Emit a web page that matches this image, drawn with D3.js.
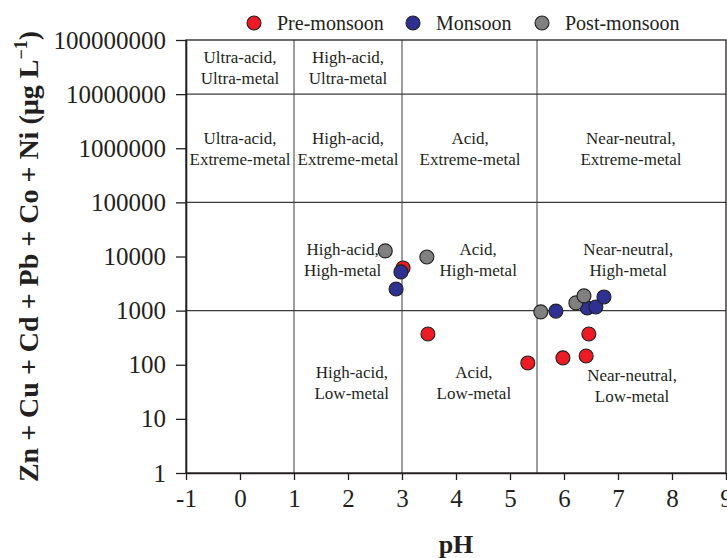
<!DOCTYPE html>
<html>
<head>
<meta charset="utf-8">
<script src="https://cdn.jsdelivr.net/npm/d3@7"></script>
<style>
  body { margin: 0; background: #fff; }
  text { font-family: "Liberation Serif", "Times New Roman", serif; fill: #231f20; }
</style>
</head>
<body>
<svg id="chart" width="727" height="558"></svg>
<script>
// values
const seasons = ['Pre-monsoon', 'Monsoon', 'Post-monsoon'];
const preMonsoonPH = [3.02, 3.48, 5.33, 5.98, 6.41, 6.46];
const preMonsoonMetal = [6150, 370, 108, 134, 145, 370];
const monsoonPH = [2.98, 2.89, 5.85, 6.43, 6.59, 6.74];
const monsoonMetal = [5190, 2510, 980, 1120, 1170, 1790];
const postMonsoonPH = [2.69, 3.46, 5.57, 6.22, 6.37];
const postMonsoonMetal = [12700, 9800, 950, 1390, 1870];

const xTicks = [-1, 0, 1, 2, 3, 4, 5, 6, 7, 8, 9];
const yTicks = [1, 10, 100, 1000, 10000, 100000, 1000000, 10000000, 100000000];

// Ficklin-style zone boundaries
const phBounds = [1, 3, 5.5];
const metalBounds = [1e3, 1e5, 1e7];

// zone labels: [line 1, line 2, pH, metal]
const zoneLabels = [
  ['Ultra-acid,', 'Ultra-metal', 0, 3e7],
  ['High-acid,', 'Ultra-metal', 2, 3e7],
  ['Ultra-acid,', 'Extreme-metal', 0, 9.5e5],
  ['High-acid,', 'Extreme-metal', 2, 9.5e5],
  ['Acid,', 'Extreme-metal', 4.26, 9.5e5],
  ['Near-neutral,', 'Extreme-metal', 7.24, 9.5e5],
  ['High-acid,', 'High-metal', 1.9, 8500],
  ['Acid,', 'High-metal', 4.41, 8500],
  ['Near-neutral,', 'High-metal', 7.19, 8500],
  ['High-acid,', 'Low-metal', 2.07, 46],
  ['Acid,', 'Low-metal', 4.33, 46],
  ['Near-neutral,', 'Low-metal', 7.26, 40],
];

const colors = ['#ed1c24', '#2e3192', '#808080'];
const series = [
  { name: seasons[0], ph: preMonsoonPH, metal: preMonsoonMetal, color: colors[0] },
  { name: seasons[1], ph: monsoonPH, metal: monsoonMetal, color: colors[1] },
  { name: seasons[2], ph: postMonsoonPH, metal: postMonsoonMetal, color: colors[2] },
];

const margin = { top: 40, right: 1, bottom: 85, left: 186 };
const svg = d3.select('#chart');
const W = +svg.attr('width'), H = +svg.attr('height');
const width = W - margin.left - margin.right;
const height = H - margin.top - margin.bottom;

const g = svg.append('g').attr('transform', `translate(${margin.left},${margin.top})`);

const x = d3.scaleLinear().domain([-1, 9]).range([0, width]);
const y = d3.scaleLog().domain([1, 1e8]).range([height, 0]);

// zone lines
g.selectAll('.vline').data(phBounds).join('line')
  .attr('x1', d => x(d)).attr('x2', d => x(d))
  .attr('y1', 0).attr('y2', height)
  .attr('stroke', '#3a3a3a').attr('stroke-width', 1);
g.selectAll('.hline').data(metalBounds).join('line')
  .attr('x1', 0).attr('x2', width)
  .attr('y1', d => y(d)).attr('y2', d => y(d))
  .attr('stroke', '#3a3a3a').attr('stroke-width', 1.2);

// frame
g.append('rect')
  .attr('width', width).attr('height', height)
  .attr('fill', 'none').attr('stroke', '#231f20').attr('stroke-width', 1.3);

// axes
const yAxis = g.append('g')
  .call(d3.axisLeft(y).tickValues(yTicks).tickFormat(d3.format('d')).tickSize(10).tickSizeOuter(0).tickPadding(10));
const xAxis = g.append('g')
  .attr('transform', `translate(0,${height})`)
  .call(d3.axisBottom(x).tickValues(xTicks).tickFormat(d => String(d)).tickSize(7).tickSizeOuter(0).tickPadding(9));

[yAxis, xAxis].forEach(a => {
  a.select('.domain').attr('stroke', '#231f20').attr('stroke-width', 1.6);
  a.selectAll('.tick line').attr('stroke', '#231f20').attr('stroke-width', 1.3);
  a.selectAll('.tick text')
    .style('font-family', '"Liberation Serif", "Times New Roman", serif')
    .style('font-size', '25px').attr('fill', '#231f20');
});

// zone labels
const zl = g.append('g').selectAll('text').data(zoneLabels).join('text')
  .attr('text-anchor', 'middle')
  .style('font-size', '17px')
  .attr('transform', d => `translate(${x(d[2])},${y(d[3])})`);
zl.append('tspan').attr('x', 0).attr('y', -5).text(d => d[0]);
zl.append('tspan').attr('x', 0).attr('y', 16).text(d => d[1]);

// points
series.forEach(s => {
  g.append('g').selectAll('circle').data(s.ph.map((p, i) => [p, s.metal[i]])).join('circle')
    .attr('cx', d => x(d[0])).attr('cy', d => y(d[1]))
    .attr('r', 7)
    .attr('fill', s.color)
    .attr('stroke', '#231f20').attr('stroke-width', 1.1);
});

// legend
const legendX = [254, 413, 542];
const legend = svg.append('g').selectAll('g').data(series).join('g')
  .attr('transform', (d, i) => `translate(${legendX[i]},23)`);
legend.append('circle').attr('r', 7)
  .attr('fill', d => d.color).attr('stroke', '#231f20').attr('stroke-width', 1.1);
legend.append('text').attr('x', 23).attr('y', 7)
  .style('font-size', '20px').text(d => d.name);

// axis titles
svg.append('text')
  .attr('x', margin.left + width / 2).attr('y', 553)
  .attr('text-anchor', 'middle')
  .style('font-size', '26px').style('font-weight', 'bold')
  .text('pH');

const yTitle = svg.append('text')
  .attr('transform', `translate(38,${margin.top + height / 2}) rotate(-90)`)
  .attr('text-anchor', 'middle')
  .style('font-size', '28px').style('font-weight', 'bold');
yTitle.append('tspan').text('Zn + Cu + Cd + Pb + Co + Ni (µg L');
yTitle.append('tspan').attr('dy', -11).style('font-size', '18px').text('−1');
yTitle.append('tspan').attr('dy', 11).text(')');
</script>
</body>
</html>
